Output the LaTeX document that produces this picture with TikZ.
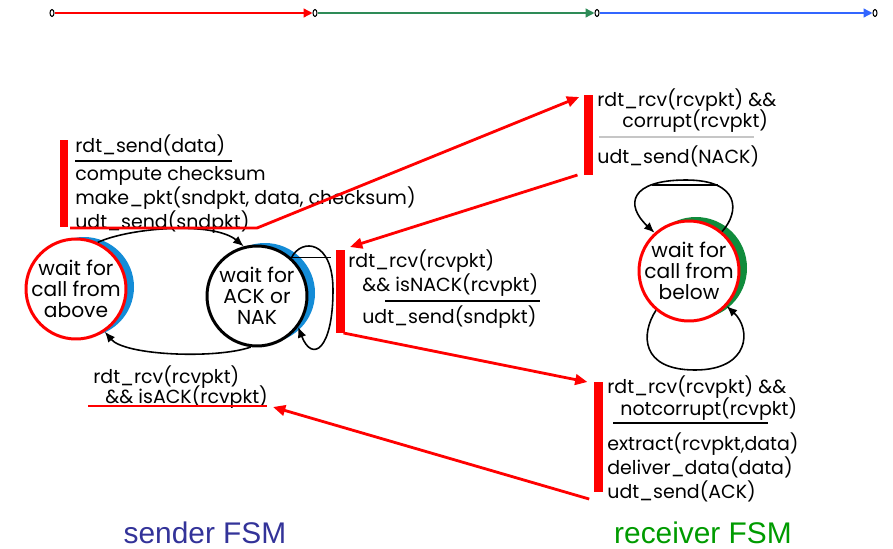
\documentclass[tikz,border=0pt]{standalone}
\usepackage{fontspec}
\usepackage{tikz}
\usetikzlibrary{arrows.meta,shapes.geometric}

\newfontfamily{\gothic}{Poppins}
\newfontfamily{\helv}{Liberation Sans}
\newcommand{\lines}[1]{\begin{tabular}[t]{@{}l@{}}#1\end{tabular}}

\definecolor{shadeblue}{RGB}{20,140,215}
\definecolor{shadegreen}{RGB}{16,140,60}
\definecolor{linegreen}{RGB}{46,139,87}
\definecolor{lineblue}{RGB}{51,102,255}
\definecolor{sendcol}{RGB}{51,51,153}
\definecolor{rcvcol}{RGB}{0,155,0}

\tikzset{
  state/.style={circle, draw, line width=0.06cm, fill=white, minimum size=2cm,
    inner sep=-8pt, align=center, font=\gothic\fontsize{11.5}{12}\selectfont},
  act/.style={anchor=base west, inner sep=0pt,
    font=\gothic\fontsize{10.8}{12.5}\selectfont},
  tick/.style={ellipse, draw, inner sep=0pt, minimum width=0.08cm,
    minimum height=0.14cm, line width=0.6pt},
  redbar/.style={red, line width=0.18cm},
  redarr/.style={red, line width=1.6pt, -{Triangle[length=7pt,width=6pt]}},
  loop/.style={line width=0.9pt, -{Latex[length=6pt,width=5pt]}},
  rule/.style={line width=1.1pt},
  fsm/.style={anchor=base, inner sep=0pt, font=\helv\fontsize{17}{20}\selectfont}
}

\begin{document}
\begin{tikzpicture}[x=0.02cm, y=-0.02cm]
    \useasboundingbox (0,0) rectangle (893,548);

    % time line at the top
    \node[tick] (t0) at (52,13) {};
    \node[tick] (t1) at (315,13) {};
    \node[tick] (t2) at (597,13) {};
    \node[tick] (t3) at (875,13) {};
    \draw[red, line width=0.8pt, -{Triangle[length=5pt,width=5pt]}] (t0) -- (t1);
    \draw[linegreen, line width=0.8pt, -{Triangle[length=5pt,width=5pt]}] (t1) -- (t2);
    \draw[lineblue, line width=0.8pt, -{Triangle[length=5pt,width=5pt]}] (t2) -- (t3);

    % shadows behind the states
    \coordinate (c1) at (76,289);
    \coordinate (c2) at (257,296);
    \coordinate (c3) at (689,271);
    \fill[shadeblue] ([shift={(8,-2)}]c1) circle (50);
    \fill[shadeblue] ([shift={(8,-3)}]c2) circle (50);
    \fill[shadegreen] ([shift={(7,-3)}]c3) circle (51);

    % states
    \node[state, draw=red] (s1) at (c1) {wait for\\call from\\above};
    \node[state] (s2) at (c2) {wait for\\ACK or\\NAK};
    \node[state, draw=red] (s3) at (c3) {wait for\\call from\\below};

    % transitions
    \draw[loop] (s1.65) .. controls +(33,-15) and +(-30,-25) .. (s2.105);
    \draw[loop] (s2.-97) .. controls +(-35,12) and +(20,24) .. (s1.-56);
    \draw[loop] (s2.48) .. controls +(10,-20) and +(0,-50) .. (333,290)
                        .. controls +(0,60) and +(14,36) .. (s2.-37);
    \draw[line width=0.6pt] (s2.48) -- ++(40,0);
    \draw[loop] (s3.50) .. controls +(18,-20) and +(54,0) .. (686,180)
                        .. controls +(-56,0) and +(-30,-28) .. (s3.132);
    \draw[line width=0.6pt] (652,185) -- (718,185);
    \draw[loop] (s3.-130) .. controls +(-15,23) and +(-55,0) .. (695,370)
                          .. controls +(55,0) and +(25,23) .. (s3.-43);

    % sender: rdt_send
    \node[act] (ev1) at (75,152) {rdt\_send(data)};
    \node[act] (ac1) at (75,180) {\lines{compute checksum\\make\_pkt(sndpkt, data, checksum)\\udt\_send(sndpkt)}};
    \draw[rule] (75,161) -- (232,161);

    % receiver: corrupt
    \node[act] (ev2a) at (597,106) {rdt\_rcv(rcvpkt) \&\&};
    \node[act] (ev2b) at (622,127) {corrupt(rcvpkt)};
    \node[act] (ac2) at (597,163) {udt\_send(NACK)};
    \draw[gray!45, line width=0.6pt] (599,137) -- (754,137);

    % sender: NAK received
    \node[act] (ev3a) at (348,267) {rdt\_rcv(rcvpkt)};
    \node[act] (ev3b) at (362,291) {\&\& isNACK(rcvpkt)};
    \node[act] (ac3) at (362,323) {udt\_send(sndpkt)};
    \draw[rule] (385,301) -- (540,301);

    % receiver: not corrupt
    \node[act] (ev4a) at (607,393) {rdt\_rcv(rcvpkt) \&\&};
    \node[act] (ev4b) at (620,415) {notcorrupt(rcvpkt)};
    \node[act] (ac4) at (607,450) {\lines{extract(rcvpkt,data)\\deliver\_data(data)\\udt\_send(ACK)}};
    \draw[rule] (613,423) -- (768,423);

    % sender: ACK received
    \node[act] (ev5a) at (93,383) {rdt\_rcv(rcvpkt)};
    \node[act] (ev5b) at (105,403) {\&\& isACK(rcvpkt)};

    % red bars and the message flow
    \coordinate (b1t) at (64,140);   \coordinate (b1b) at (64,227);
    \coordinate (b2t) at (588,95);   \coordinate (b2b) at (588,175);
    \coordinate (b3t) at (340,250);  \coordinate (b3b) at (340,333);
    \coordinate (b4t) at (598,382);  \coordinate (b4b) at (598,492);
    \draw[redbar] (b1t) -- (b1b);
    \draw[redbar] (b2t) -- (b2b);
    \draw[redbar] (b3t) -- (b3b);
    \draw[redbar] (b4t) -- (b4b);

    \coordinate (u1a) at (70,228);
    \coordinate (u1b) at (257,228);
    \coordinate (u5a) at (88,406);
    \coordinate (u5b) at (267,406);
    \draw[redarr] (u1a) -- (u1b) -- ([xshift=-5]b2t |- 0,97);
    \draw[redarr] ([xshift=-6]b2b) -- (350,247);
    \draw[redarr] ([xshift=2]b3b) -- ([xshift=-6]b4t);
    \draw[red, line width=1.6pt] (u5a) -- (u5b);
    \draw[redarr] ([xshift=-5,yshift=-4]b4b) -- (273,407);

    % captions
    \node[fsm, sendcol] (sfsm) at (205,543) {sender FSM};
    \node[fsm, rcvcol] (rfsm) at (703,543) {receiver FSM};

\end{tikzpicture}
\end{document}
